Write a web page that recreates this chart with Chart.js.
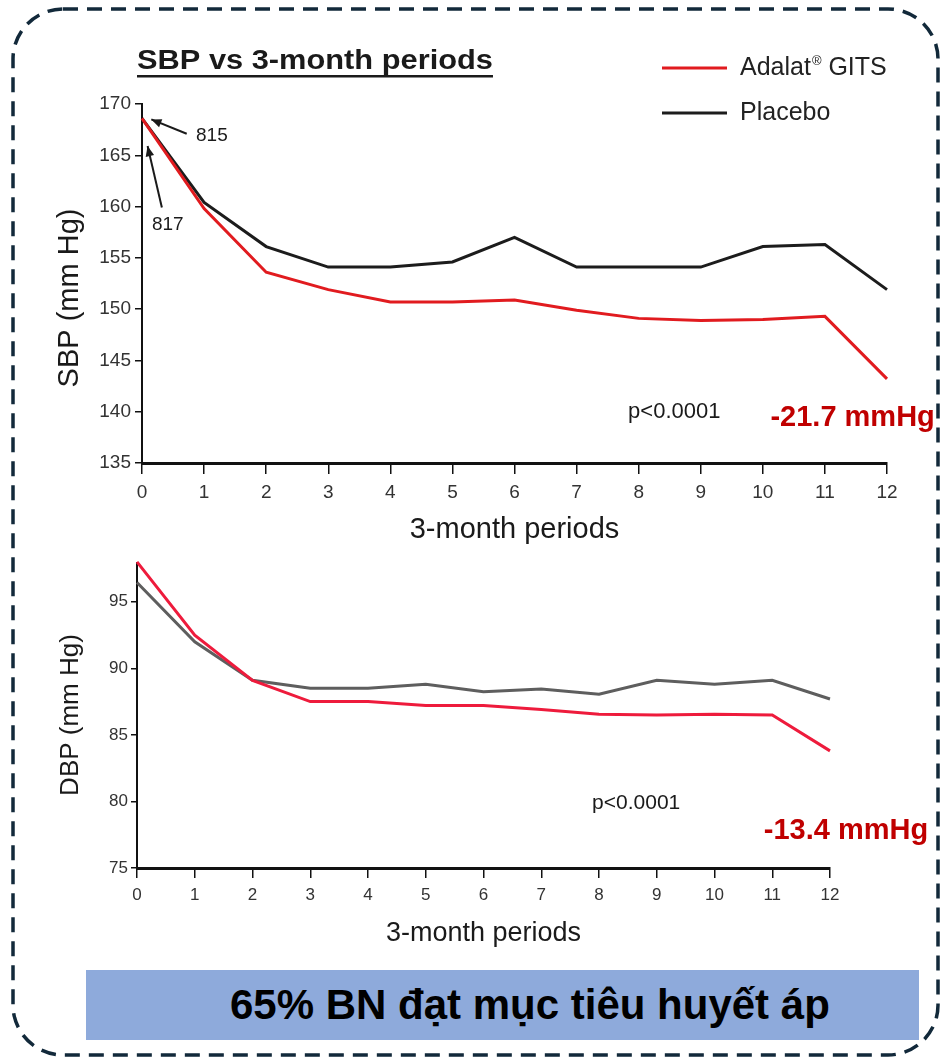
<!DOCTYPE html>
<html>
<head>
<meta charset="utf-8">
<title>SBP / DBP vs 3-month periods</title>
<script src="https://cdn.jsdelivr.net/npm/chart.js@4.4.1/dist/chart.umd.min.js"></script>
<style>
  html, body { margin: 0; padding: 0; background: #fff; }
  body { width: 948px; height: 1063px; position: relative; overflow: hidden; font-family: "Liberation Sans", Arial, sans-serif; }
  #frame { position: absolute; left: 0; top: 0; }
  #sbpChart { position: absolute; left: 0; top: 0; }
  #dbpChart { position: absolute; left: 0; top: 550px; }
  .banner { position: absolute; left: 86px; top: 970px; width: 833px; height: 70px; background: #8eaadb; }
  .banner span { position: absolute; left: 144px; top: 0; line-height: 70px; font-weight: bold; font-size: 42px; color: #000; white-space: nowrap; }
</style>
</head>
<body>
<svg id="frame" width="948" height="1063">
  <rect x="13" y="9" width="925" height="1046" rx="50" ry="50" fill="none" stroke="#12293a" stroke-width="3.5" stroke-dasharray="15 9"/>
</svg>
<canvas id="sbpChart" width="948" height="550"></canvas>
<canvas id="dbpChart" width="948" height="410"></canvas>
<div class="banner"><span>65% BN đạt mục tiêu huyết áp</span></div>

<script>
// data
const periods = [0, 1, 2, 3, 4, 5, 6, 7, 8, 9, 10, 11, 12];
const sbpAdalat  = [168.6, 159.8, 153.6, 151.9, 150.7, 150.7, 150.9, 149.9, 149.1, 148.9, 149.0, 149.3, 143.2];
const sbpPlacebo = [168.6, 160.4, 156.1, 154.1, 154.1, 154.6, 157.0, 154.1, 154.1, 154.1, 156.1, 156.3, 151.9];
const dbpAdalat  = [98.0, 92.5, 89.1, 87.5, 87.5, 87.2, 87.2, 86.9, 86.55, 86.5, 86.55, 86.5, 83.8];
const dbpPlacebo = [96.45, 92.0, 89.1, 88.5, 88.5, 88.8, 88.25, 88.45, 88.05, 89.1, 88.8, 89.1, 87.7];
const sbpTicks = [135, 140, 145, 150, 155, 160, 165, 170];
const dbpTicks = [75, 80, 85, 90, 95];
const seriesNames = ['Adalat® GITS', 'Placebo'];

const FONT = '"Liberation Sans", Arial, sans-serif';

// draws title, legend, arrows and notes
const notesPlugin = {
  id: 'notes',
  afterDraw(chart, args, opts) {
    const { ctx } = chart;
    const xs = chart.scales.x, ys = chart.scales.y;
    const px = p => (p.px != null ? p.px : xs.getPixelForValue(p.x));
    const py = p => (p.py != null ? p.py : ys.getPixelForValue(p.y));

    (opts.texts || []).forEach(t => {
      ctx.save();
      ctx.font = t.font;
      ctx.fillStyle = t.color || '#1a1a1a';
      ctx.textBaseline = 'middle';
      ctx.textAlign = t.align || 'left';
      ctx.translate(px(t), py(t));
      if (t.rotate) ctx.rotate(t.rotate);
      if (t.stretch) ctx.scale(t.stretch, 1);
      ctx.fillText(t.text, 0, 0);
      if (t.underline) {
        const w = ctx.measureText(t.text).width;
        ctx.fillRect(0, t.underline, w, 2.5);
      }
      ctx.restore();
    });

    (opts.arrows || []).forEach(a => {
      const x1 = px(a.from), y1 = py(a.from), x2 = px(a.to), y2 = py(a.to);
      const ang = Math.atan2(y2 - y1, x2 - x1);
      ctx.save();
      ctx.strokeStyle = '#1a1a1a';
      ctx.fillStyle = '#1a1a1a';
      ctx.lineWidth = 2;
      ctx.beginPath();
      ctx.moveTo(x1, y1);
      ctx.lineTo(x2, y2);
      ctx.stroke();
      ctx.beginPath();
      ctx.moveTo(x2, y2);
      ctx.lineTo(x2 - 11 * Math.cos(ang - 0.4), y2 - 11 * Math.sin(ang - 0.4));
      ctx.lineTo(x2 - 11 * Math.cos(ang + 0.4), y2 - 11 * Math.sin(ang + 0.4));
      ctx.closePath();
      ctx.fill();
      ctx.restore();
    });

    if (opts.legend) {
      const L = opts.legend;
      chart.data.datasets.forEach((ds, i) => {
        const y = L.y + i * L.gap;
        ctx.save();
        ctx.strokeStyle = ds.borderColor;
        ctx.lineWidth = 3;
        ctx.beginPath();
        ctx.moveTo(L.x, y);
        ctx.lineTo(L.x + 65, y);
        ctx.stroke();
        ctx.fillStyle = '#222';
        ctx.textBaseline = 'middle';
        ctx.font = '25px ' + FONT;
        let tx = L.x + 78;
        const parts = ds.label.split('®');
        ctx.fillText(parts[0], tx, y);
        if (parts.length > 1) {
          tx += ctx.measureText(parts[0]).width + 1;
          ctx.font = '13px ' + FONT;
          ctx.fillText('®', tx, y - 7);
          tx += ctx.measureText('®').width;
          ctx.font = '25px ' + FONT;
          ctx.fillText(parts[1], tx, y);
        }
        ctx.restore();
      });
    }
  }
};

function makeChart(id, cfg) {
  const canvas = document.getElementById(id);
  const W = canvas.width, H = canvas.height;
  return new Chart(canvas.getContext('2d'), {
    type: 'line',
    data: {
      datasets: [
        {
          label: seriesNames[0],
          data: periods.map((p, i) => ({ x: p, y: cfg.adalat[i] })),
          borderColor: cfg.red,
          borderWidth: 3,
          pointRadius: 0,
          tension: 0
        },
        {
          label: seriesNames[1],
          data: periods.map((p, i) => ({ x: p, y: cfg.placebo[i] })),
          borderColor: cfg.grey,
          borderWidth: 3,
          pointRadius: 0,
          tension: 0
        }
      ]
    },
    options: {
      responsive: false,
      animation: false,
      clip: false,
      layout: { padding: { left: 0, top: cfg.area.top, right: W - cfg.area.right, bottom: 0 } },
      plugins: {
        legend: { display: false },
        tooltip: { enabled: false },
        notes: cfg.notes
      },
      scales: {
        x: {
          type: 'linear',
          min: 0,
          max: 12,
          afterBuildTicks: s => { s.ticks = periods.map(v => ({ value: v })); },
          afterFit: s => { s.height = H - cfg.area.bottom; },
          border: { display: true, color: '#111', width: cfg.xBorder },
          grid: { drawOnChartArea: false, drawTicks: true, tickLength: cfg.xTickLen, color: '#111', lineWidth: 1.5 },
          ticks: { color: '#333', padding: cfg.xPad, maxRotation: 0, font: { family: FONT, size: cfg.tickSize } },
          title: {
            display: true,
            text: '3-month periods',
            color: '#1a1a1a',
            font: { family: FONT, size: cfg.xTitleSize },
            padding: { top: 0, bottom: cfg.xTitlePad }
          }
        },
        y: {
          min: cfg.yMin,
          max: cfg.yMax,
          afterBuildTicks: s => { s.ticks = cfg.yTicks.map(v => ({ value: v })); },
          afterFit: s => { s.width = cfg.area.left; },
          border: { display: true, color: '#111', width: 2 },
          grid: { drawOnChartArea: false, drawTicks: true, tickLength: cfg.yTickLen, color: '#111', lineWidth: 1.5 },
          ticks: { color: '#333', padding: cfg.yPad, font: { family: FONT, size: cfg.tickSize } }
        }
      }
    },
    plugins: [notesPlugin]
  });
}

// Systolic chart
makeChart('sbpChart', {
  adalat: sbpAdalat, placebo: sbpPlacebo,
  red: '#e11b1f', grey: '#1c1c1c',
  area: { left: 142, right: 887, top: 104, bottom: 463 },
  yMin: 135, yMax: 170, yTicks: sbpTicks,
  xTickLen: 11, yTickLen: 7, xPad: 7, yPad: 4, xBorder: 3,
  tickSize: 19, xTitleSize: 29, xTitlePad: 3,
  notes: {
    legend: { x: 662, y: 68, gap: 45 },
    texts: [
      { text: 'SBP vs 3-month periods', px: 137, py: 61, font: 'bold 28px ' + FONT, stretch: 1.1, underline: 14, color: '#1a1a1a' },
      { text: 'SBP (mm Hg)', px: 70, py: 298, font: '29px ' + FONT, align: 'center', rotate: -Math.PI / 2 },
      { text: '815', x: 0.87, y: 166.9, font: '19px ' + FONT },
      { text: '817', x: 0.16, y: 158.2, font: '19px ' + FONT },
      { text: 'p<0.0001', x: 7.83, y: 140, font: '22px ' + FONT },
      { text: '-21.7 mmHg', x: 12.77, y: 139.4, font: 'bold 29px ' + FONT, align: 'right', color: '#c00000' }
    ],
    arrows: [
      { from: { x: 0.72, y: 167.1 }, to: { x: 0.15, y: 168.5 } },
      { from: { x: 0.32, y: 159.9 }, to: { x: 0.09, y: 165.9 } }
    ]
  }
});

// Diastolic chart
makeChart('dbpChart', {
  adalat: dbpAdalat, placebo: dbpPlacebo,
  red: '#ee1b3c', grey: '#5e5e5e',
  area: { left: 137, right: 830, top: 12, bottom: 318 },
  yMin: 75, yMax: 97.9, yTicks: dbpTicks,
  xTickLen: 10, yTickLen: 6, xPad: 7, yPad: 3, xBorder: 3,
  tickSize: 17, xTitleSize: 27, xTitlePad: 10,
  notes: {
    texts: [
      { text: 'DBP (mm Hg)', px: 71, py: 165, font: '26px ' + FONT, align: 'center', rotate: -Math.PI / 2 },
      { text: 'p<0.0001', x: 7.88, y: 79.85, font: '21px ' + FONT },
      { text: '-13.4 mmHg', x: 13.7, y: 77.75, font: 'bold 29px ' + FONT, align: 'right', color: '#c00000' }
    ]
  }
});
</script>
</body>
</html>
